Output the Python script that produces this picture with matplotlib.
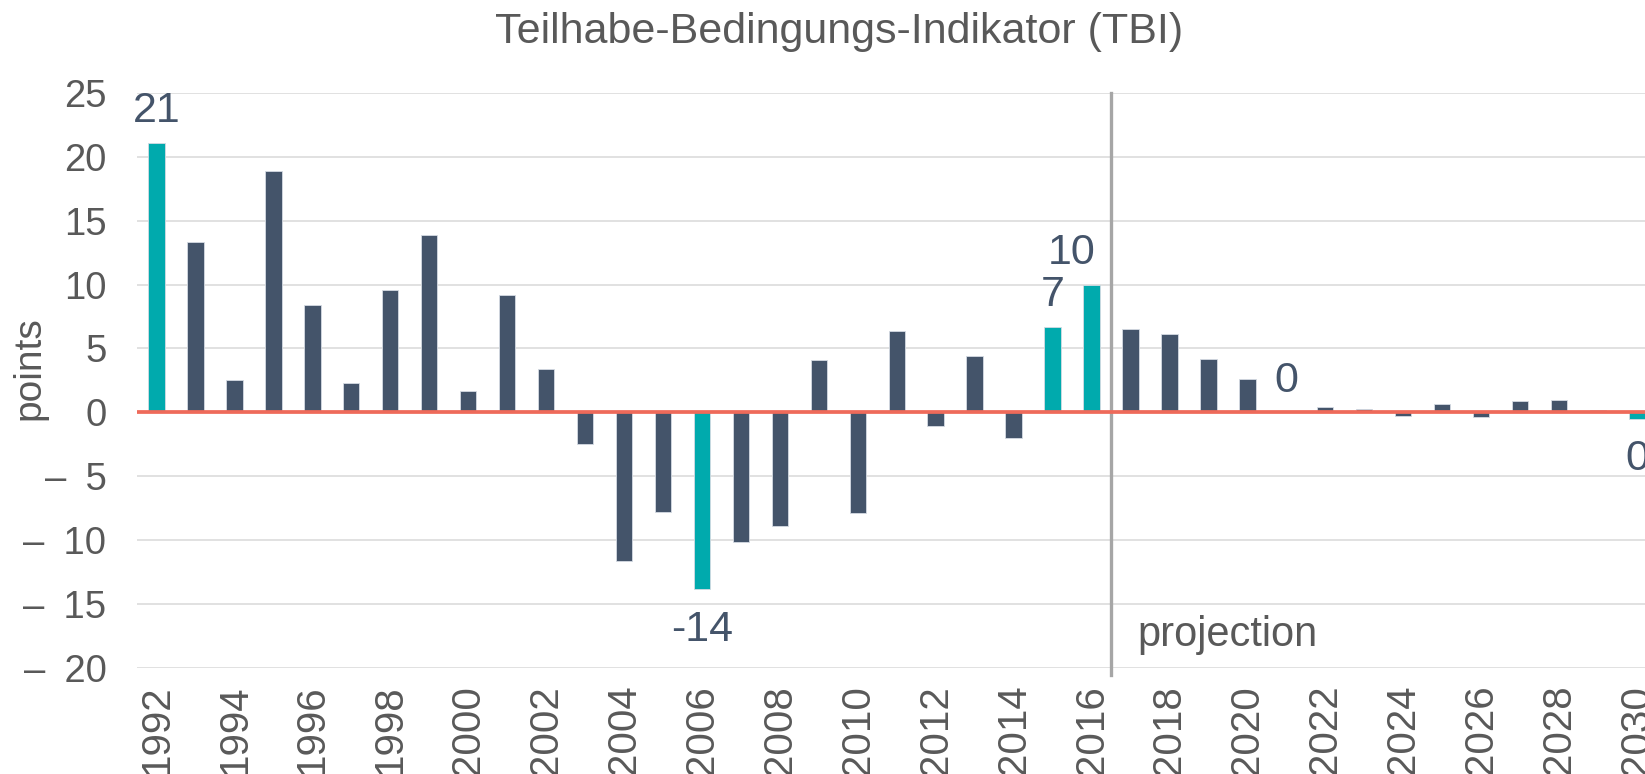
import matplotlib
matplotlib.use("Agg")
import matplotlib.pyplot as plt

plt.rcParams['font.family'] = ['Liberation Sans', 'DejaVu Sans']

# ---- data ----
years = list(range(1992, 2031))
values = [21.1, 13.3, 2.5, 18.9, 8.4, 2.3, 9.6, 13.9, 1.7, 9.2,
          3.4, -2.5, -11.6, -7.8, -13.8, -10.1, -8.9, 4.1, -7.9, 6.4,
          -1.1, 4.4, -2.0, 6.7, 10.0, 6.5, 6.1, 4.2, 2.6, 0.0,
          0.4, 0.27, -0.27, 0.67, -0.38, 0.9, 0.95, 0.22, -0.48]
highlight_years = [1992, 2006, 2015, 2016, 2030]
label_years = [1992, 2006, 2015, 2016, 2021, 2030]
label_texts = ["21", "-14", "7", "10", "0", "0"]
xtick_years = list(range(1992, 2031, 2))
ytick_values = [-20, -15, -10, -5, 0, 5, 10, 15, 20, 25]
title = "Teilhabe-Bedingungs-Indikator (TBI)"
ylabel = "points"
projection_text = "projection"
projection_start = 2016.5

# ---- styling ----
DARK = "#44546A"
TEAL = "#00AAAD"
GRAY_TXT = "#595959"
GRID = "#D9D9D9"
ZERO = "#EE6A5A"

W, H = 1645, 774
fig = plt.figure(figsize=(W / 100, H / 100), dpi=100)

left_px, top_px, bottom_px = 137, 92.7, 668.2
xmin, xmax = 1991.5, 2030.5
px_per_year = 38.96
width_px = (xmax - xmin) * px_per_year
ax = fig.add_axes([left_px / W, (H - bottom_px) / H, width_px / W, (bottom_px - top_px) / H])

colors = [TEAL if y in highlight_years else DARK for y in years]
ax.bar(years, values, width=0.42, color=colors, edgecolor="#D5DBE3", linewidth=0.6, zorder=3)

def fmt_tick(v):
    # Excel-style padded minus
    return ("\u2013\u2002" + str(abs(v))) if v < 0 else str(v)

ax.set_xlim(xmin, xmax)
ax.set_ylim(-20, 25)
ax.set_yticks(ytick_values)
ax.set_xticks(xtick_years)
ax.set_xticklabels([str(y) for y in xtick_years], rotation=90, fontsize=29, color=GRAY_TXT)
ax.set_yticklabels([fmt_tick(v) for v in ytick_values], fontsize=27.5, color=GRAY_TXT)
ax.tick_params(axis='y', length=0, pad=22)
ax.tick_params(axis='x', length=0, pad=12)
for lab in ax.get_xticklabels():
    lab.set_verticalalignment('top')

for s in ax.spines.values():
    s.set_visible(False)
ax.grid(axis='y', color=GRID, linewidth=1.1, zorder=0)
ax.set_axisbelow(True)

# zero line
ax.axhline(0, color=ZERO, linewidth=2.7, zorder=4)
# projection divider
ax.axvline(projection_start, ymin=-0.012, ymax=1.0, color="#A6A6A6", linewidth=2.4,
           zorder=2, clip_on=False)
ax.text(projection_start + 0.68, -18.3, projection_text, fontsize=30, color=GRAY_TXT,
        ha='left', va='baseline')

# data labels
vals = dict(zip(years, values))
for y, t in zip(label_years, label_texts):
    v = vals[y]
    dx = -14 if y == 2016 else 0
    if v >= 0:
        ax.annotate(t, (y, v), xytext=(dx, 15), textcoords='offset points',
                    ha='center', va='baseline', fontsize=31, color=DARK,
                    annotation_clip=False, zorder=5)
    else:
        ax.annotate(t, (y, v), xytext=(dx, -15), textcoords='offset points',
                    ha='center', va='top', fontsize=31, color=DARK,
                    annotation_clip=False, zorder=5)

fig.text(839 / W, 1 - 32 / H, title, fontsize=31, color=GRAY_TXT, ha='center', va='center')
fig.text(29 / W, 1 - 368 / H, ylabel, fontsize=28, color=GRAY_TXT, rotation=90,
         ha='center', va='center')

fig.savefig("out.png", dpi=100)
